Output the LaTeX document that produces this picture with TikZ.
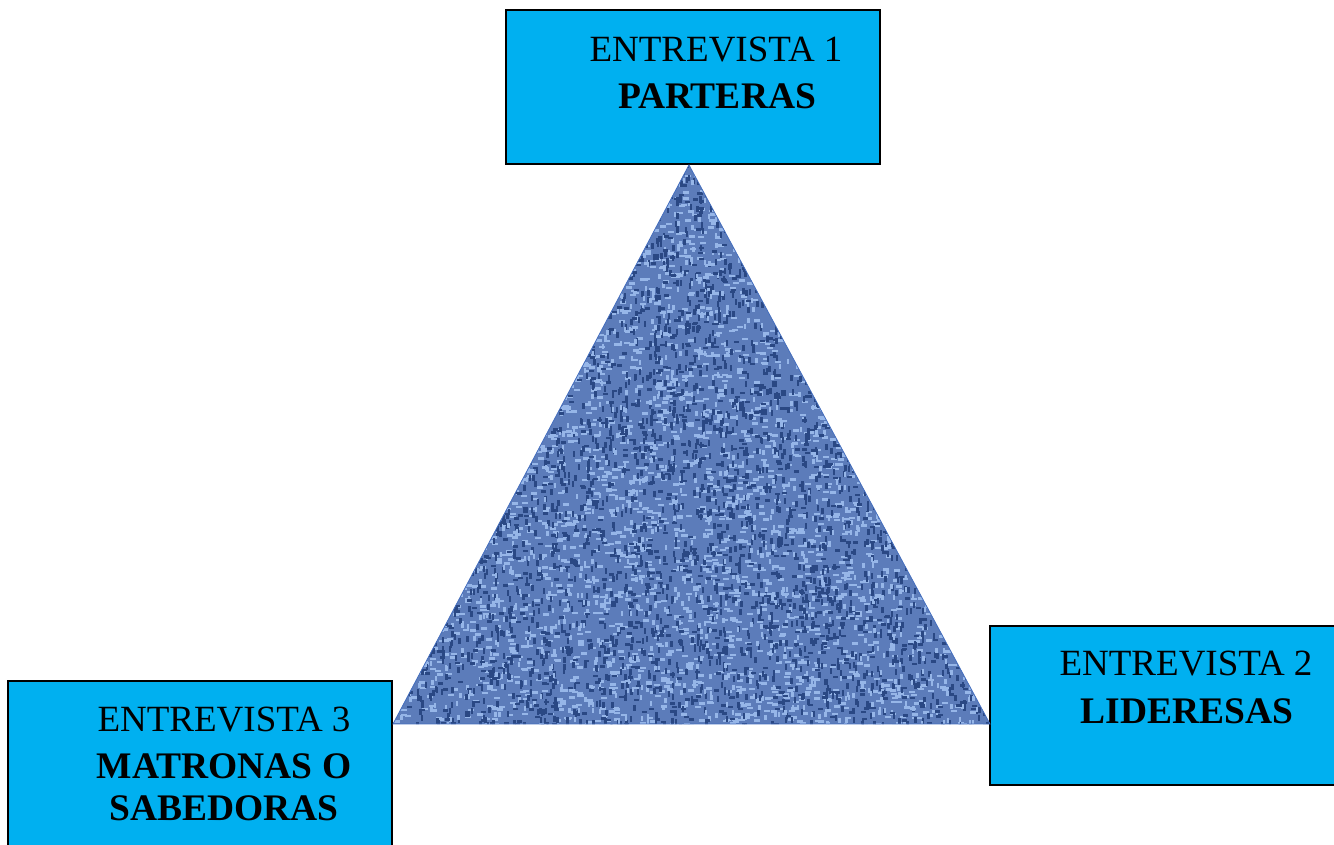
\documentclass[tikz,border=0pt]{standalone}
\usepackage{fontspec}
\setmainfont{Liberation Serif}
\begin{document}
\begin{tikzpicture}[x=1pt,y=-1pt,
  boxst/.style={draw=black,line width=1.4pt,fill=boxcyan,rectangle,inner sep=0pt},
  lbl/.style={anchor=base,inner sep=0pt,font=\fontsize{37}{44}\selectfont},
  blbl/.style={lbl,font=\fontsize{37.5}{44}\selectfont\bfseries}]
\definecolor{boxcyan}{RGB}{0,176,240}
\definecolor{tribase}{RGB}{92,124,186}
\definecolor{trilight}{RGB}{150,182,232}
\definecolor{tridark}{RGB}{42,72,132}
\definecolor{triedge}{RGB}{68,110,190}
\useasboundingbox (0,0) rectangle (1334,844);
% boxes
\node[boxst,minimum width=374pt,minimum height=154pt] (top) at (693,87) {};
\node[boxst,minimum width=384pt,minimum height=167pt] (left) at (200,764.5) {};
\node[boxst,minimum width=350pt,minimum height=159pt] (right) at (1165,705.5) {};
% triangle
\coordinate (apex) at (689,165);
\coordinate (bl) at (393,724);
\coordinate (br) at (990,724);
\begin{scope}
\clip (apex) -- (bl) -- (br) -- cycle;
\fill[tribase] (393,165) rectangle (990,724);
\pgfmathsetseed{7}
\foreach \i in {1,...,3200}{
  \pgfmathsetmacro{\xx}{393+597*rnd}
  \pgfmathsetmacro{\yy}{165+559*rnd}
  \fill[trilight] (\xx,\yy) rectangle ++(6,2.5);
}
\foreach \i in {1,...,3200}{
  \pgfmathsetmacro{\xx}{393+597*rnd}
  \pgfmathsetmacro{\yy}{165+559*rnd}
  \fill[tridark] (\xx,\yy) rectangle ++(2.5,6);
}
\foreach \i in {1,...,1600}{
  \pgfmathsetmacro{\xx}{393+597*rnd}
  \pgfmathsetmacro{\yy}{165+559*rnd}
  \fill[trilight] (\xx,\yy) rectangle ++(2.5,5);
}
\foreach \i in {1,...,1600}{
  \pgfmathsetmacro{\xx}{393+597*rnd}
  \pgfmathsetmacro{\yy}{165+559*rnd}
  \fill[tridark] (\xx,\yy) rectangle ++(5,2.5);
}
\end{scope}
\draw[triedge,line width=0.8pt,line join=miter] (apex) -- (bl) -- (br) -- cycle;
% texts
\node[lbl] (t1a) at (716,61) {ENTREVISTA 1};
\node[blbl] (t1b) at (717,108) {PARTERAS};
\node[lbl] (t2a) at (1186,675) {ENTREVISTA 2};
\node[blbl] (t2b) at (1187,723) {LIDERESAS};
\node[lbl] (t3a) at (224,731) {ENTREVISTA 3};
\node[blbl] (t3b) at (224,778) {MATRONAS O};
\node[blbl] (t3c) at (224,820) {SABEDORAS};
\end{tikzpicture}
\end{document}
